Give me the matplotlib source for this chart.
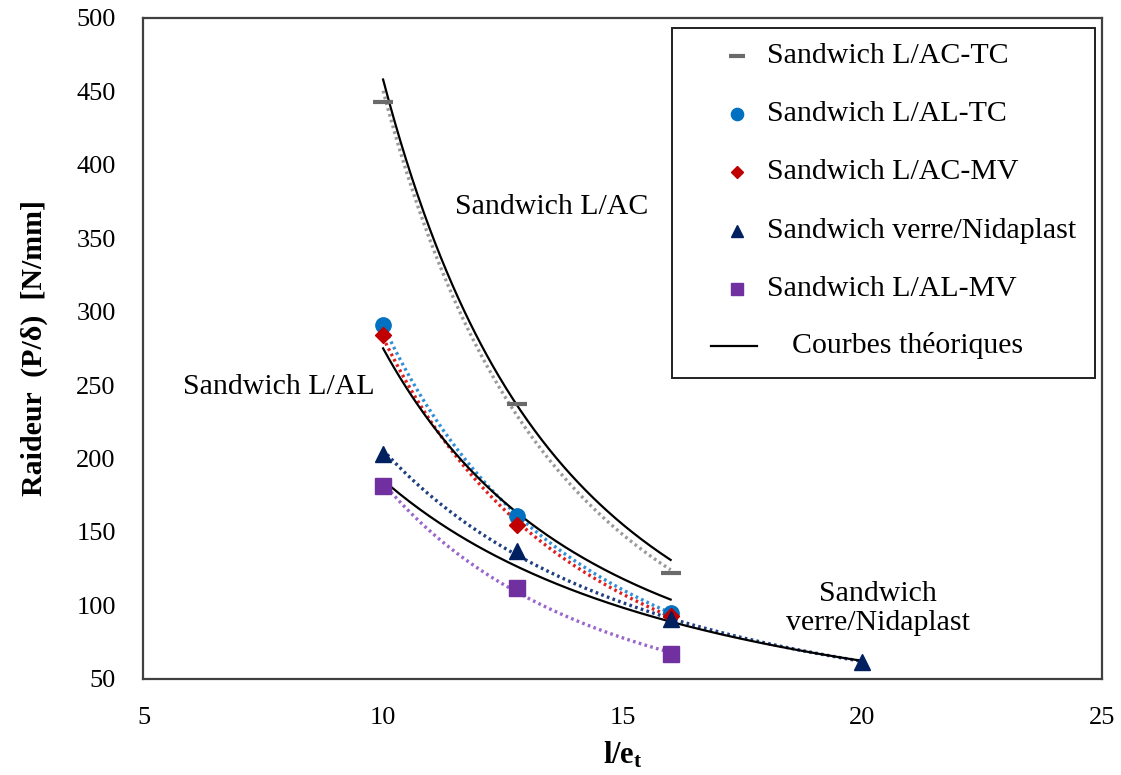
import numpy as np
import matplotlib
matplotlib.use('Agg')
import matplotlib.pyplot as plt

plt.rcParams['font.family'] = ['Liberation Serif', 'DejaVu Serif']
plt.rcParams['mathtext.fontset'] = 'custom'
plt.rcParams['mathtext.rm'] = 'Liberation Serif'
plt.rcParams['mathtext.bf'] = 'Liberation Serif:bold'

# measured points (l/e_t, stiffness N/mm)
x_three = [10, 12.8, 16]
lac_tc = [443, 237, 122]
lal_tc = [291, 161, 95]
lac_mv = [284, 155, 93]
nida_x = [10, 12.8, 16, 20]
nida = [203, 137, 91, 61.5]
lal_mv = [181, 112, 67]

# theoretical curves, values
theo_ac_x = [10, 12.8, 16]
theo_ac_y = [458, 236, 131]
theo_al_x = [10, 12.8, 16]
theo_al_y = [275, 163, 104]
theo_nida_x = [10, 12.8, 16, 20]
theo_nida_y = [186, 125, 90, 62]

series = [
    ('Sandwich L/AC-TC', x_three, lac_tc, '_', '#6a6a6a', '#9a9a9a', 14),
    ('Sandwich L/AL-TC', x_three, lal_tc, 'o', '#0070c0', '#2f8fd8', 11),
    ('Sandwich L/AC-MV', x_three, lac_mv, 'D', '#c00000', '#e02020', 8),
    ('Sandwich verre/Nidaplast', nida_x, nida, '^', '#002060', '#1f3f80', 11.5),
    ('Sandwich L/AL-MV', x_three, lal_mv, 's', '#7030a0', '#9a66cc', 11),
]


def smooth_curve(xs, ys, deg):
    # smooth line through the points, fitted in log-log space
    c = np.polyfit(np.log(xs), np.log(ys), deg)
    xx = np.linspace(min(xs), max(xs), 200)
    return xx, np.exp(np.polyval(c, np.log(xx)))


fig = plt.figure(figsize=(11.21, 7.75), dpi=100)
ax = fig.add_axes([0.128, 0.124, 0.855, 0.853])

# black theoretical curves
for tx, ty in [(theo_ac_x, theo_ac_y), (theo_al_x, theo_al_y),
               (theo_nida_x, theo_nida_y)]:
    xx, yy = smooth_curve(tx, ty, 2)
    ax.plot(xx, yy, color='black', lw=1.6, zorder=3)

# dotted power trendlines + markers
for name, xs, ys, mk, col, tcol, ms in series:
    xx, yy = smooth_curve(xs, ys, 1)
    ax.plot(xx, yy, color=tcol, lw=2.4, ls=(0, (0.8, 1.0)), zorder=2)
    if mk == '_':
        ax.plot(xs, ys, ls='none', marker=mk, ms=ms, mew=3, color=col, zorder=4)
    else:
        ax.plot(xs, ys, ls='none', marker=mk, ms=ms, color=col, zorder=4)

ax.set_xlim(5, 25)
ax.set_ylim(50, 500)
ax.set_xticks([5, 10, 15, 20, 25])
ax.set_yticks(range(50, 501, 50))
ax.tick_params(length=0, labelsize=19, pad=20)
for s in ax.spines.values():
    s.set_color('#404040')
    s.set_linewidth(1.6)

ax.set_ylabel('Raideur  (P/δ)  [N/mm]', fontsize=21.5, fontweight='bold', labelpad=20)
ax.set_xlabel(r'$\mathbf{l/e_t}$', fontsize=22, labelpad=8)

ax.text(11.5, 371, 'Sandwich L/AC', fontsize=21.5, va='center', ha='left')
ax.text(5.82, 249, 'Sandwich L/AL', fontsize=21.5, va='center', ha='left')
ax.text(20.32, 98, 'Sandwich\nverre/Nidaplast', fontsize=21.5, va='center',
        ha='center', linespacing=1.15)

# legend box drawn by hand to match the original layout
tr = ax.transAxes
ax.add_patch(plt.Rectangle((0.551, 0.455), 0.442, 0.530, transform=tr,
                           fill=True, facecolor='white', edgecolor='#202020',
                           lw=1.4, zorder=5))
rows = [0.9425, 0.855, 0.767, 0.678, 0.590]
for (name, xs, ys, mk, col, tcol, ms), ry in zip(series, rows):
    if mk == '_':
        ax.plot([0.619], [ry], marker=mk, ms=ms * 0.8, mew=3, color=col,
                transform=tr, zorder=6, clip_on=False)
    else:
        ax.plot([0.619], [ry], marker=mk, ms=ms * 0.8, color=col,
                transform=tr, zorder=6, clip_on=False)
    ax.text(0.651, ry, name, transform=tr, fontsize=21.5, va='center',
            ha='left', zorder=6)
ax.plot([0.592, 0.640], [0.504, 0.504], color='black', lw=1.6, transform=tr,
        zorder=6)
ax.text(0.677, 0.504, 'Courbes théoriques', transform=tr, fontsize=21.5,
        va='center', ha='left', zorder=6)

fig.savefig('out.png', dpi=100)
